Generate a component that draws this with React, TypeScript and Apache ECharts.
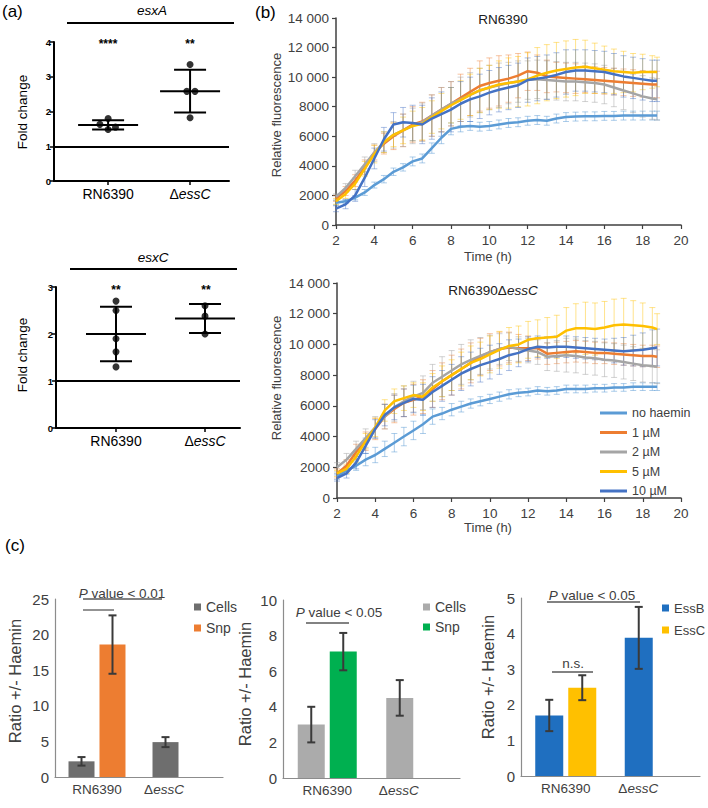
import React, { useEffect, useRef } from 'react';
import * as echarts from 'echarts';

// ---------------- DATA ----------------
// Panel (a)
const A_CATS = ['RN6390', 'ΔessC'];
const ESXA_WT = [1.8, 1.63, 1.48, 1.55];
const ESXA_WT_JIT = [0, -0.1, 0, 0.09];
const ESXA_MU = [3.35, 2.58, 2.58, 1.82];
const ESXA_MU_JIT = [0, -0.04, 0.06, 0];
const ESXA_MEAN = [1.615, 2.585];
const ESXA_SD = [0.135, 0.615];
const ESXC_WT = [2.7, 2.5, 1.9, 1.62, 1.3];
const ESXC_WT_JIT = [0, 0, 0, 0, 0];
const ESXC_MU = [2.6, 2.38, 2.0];
const ESXC_MU_JIT = [0, 0, 0];
const ESXC_MEAN = [2.0, 2.33];
const ESXC_SD = [0.58, 0.31];

// Panel (b)
const TIME = [2, 2.5, 3, 3.5, 4, 4.5, 5, 5.5, 6, 6.5, 7, 7.5, 8, 8.5, 9, 9.5, 10, 10.5, 11, 11.5, 12, 12.5, 13, 13.5, 14, 14.5, 15, 15.5, 16, 16.5, 17, 17.5, 18, 18.5, 18.75];
const SERIES_NAMES = ['no haemin', '1 µM', '2 µM', '5 µM', '10 µM'];

const WT_NO = [1500, 1600, 1850, 2200, 2700, 3100, 3600, 3900, 4300, 4500, 5200, 5900, 6500, 6650, 6700, 6650, 6700, 6800, 6900, 6950, 7050, 7100, 7050, 7200, 7300, 7330, 7350, 7350, 7380, 7380, 7400, 7400, 7400, 7400, 7400];
const WT_1 = [1800, 2300, 3000, 3900, 4900, 5500, 6000, 6400, 6800, 7000, 7400, 7800, 8200, 8600, 9000, 9400, 9600, 9750, 9900, 10100, 10400, 10300, 10050, 10000, 9950, 9900, 9850, 9800, 9750, 9700, 9650, 9600, 9550, 9500, 9500];
const WT_2 = [1900, 2500, 3300, 4100, 4900, 5600, 6100, 6400, 6700, 6950, 7400, 7800, 8200, 8500, 8800, 9100, 9300, 9450, 9600, 9700, 9800, 9850, 9800, 9750, 9700, 9700, 9650, 9600, 9500, 9300, 9100, 8900, 8700, 8550, 8500];
const WT_5 = [1600, 2100, 2800, 3800, 4800, 5600, 6100, 6400, 6700, 6850, 7300, 7700, 8100, 8450, 8800, 9100, 9300, 9500, 9600, 9700, 9850, 10100, 10300, 10450, 10550, 10650, 10700, 10600, 10500, 10400, 10350, 10300, 10350, 10350, 10350];
const WT_10 = [1100, 1400, 2000, 3200, 4500, 5800, 6800, 6950, 6900, 6800, 7200, 7500, 7800, 8200, 8500, 8700, 8950, 9150, 9300, 9450, 9800, 9900, 10000, 10150, 10350, 10450, 10450, 10400, 10350, 10200, 10050, 9950, 9850, 9750, 9750];

const WT_NO_E = [150, 150, 150, 200, 200, 250, 250, 250, 300, 300, 350, 400, 400, 350, 300, 300, 300, 300, 300, 300, 300, 300, 300, 300, 300, 300, 300, 300, 300, 300, 300, 300, 300, 300, 300];
const WT_1_E = [200, 300, 400, 500, 500, 700, 900, 1100, 1200, 1300, 1400, 1500, 1500, 1600, 1600, 1700, 1700, 1700, 1600, 1500, 1300, 1200, 1100, 1000, 1000, 1000, 900, 900, 900, 900, 900, 900, 900, 900, 900];
const WT_2_E = [200, 300, 400, 500, 600, 700, 900, 1100, 1200, 1300, 1400, 1500, 1500, 1500, 1500, 1500, 1500, 1500, 1400, 1400, 1300, 1300, 1300, 1300, 1300, 1300, 1300, 1300, 1300, 1300, 1300, 1300, 1400, 1400, 1400];
const WT_5_E = [200, 300, 400, 500, 600, 700, 800, 900, 1000, 1100, 1100, 1200, 1200, 1300, 1400, 1500, 1500, 1600, 1700, 1700, 1800, 1900, 1900, 1900, 1900, 1900, 1800, 1700, 1600, 1500, 1400, 1300, 1200, 1100, 1000];
const WT_10_E = [200, 300, 400, 600, 700, 800, 800, 1000, 1200, 1300, 1400, 1500, 1500, 1500, 1500, 1500, 1500, 1500, 1500, 1500, 1500, 1500, 1500, 1500, 1500, 1400, 1400, 1400, 1400, 1400, 1400, 1400, 1400, 1400, 1400];

const MU_NO = [1400, 1800, 2100, 2500, 2800, 3200, 3600, 4000, 4400, 4800, 5300, 5500, 5750, 5950, 6150, 6300, 6450, 6600, 6750, 6850, 6900, 7000, 6950, 7000, 7100, 7100, 7100, 7150, 7150, 7200, 7200, 7250, 7250, 7250, 7250];
const MU_1 = [1600, 2100, 3000, 3700, 4500, 5300, 5800, 6200, 6400, 6600, 7100, 7600, 8000, 8400, 8800, 9200, 9500, 9700, 9800, 9750, 9750, 9750, 9400, 9450, 9500, 9550, 9500, 9450, 9450, 9400, 9350, 9300, 9250, 9250, 9200];
const MU_2 = [2000, 2500, 3200, 3900, 4600, 5300, 5900, 6300, 6600, 6850, 7500, 7900, 8300, 8700, 9000, 9250, 9500, 9700, 9850, 9700, 9600, 9500, 9200, 9250, 9300, 9250, 9150, 9100, 9000, 8950, 8850, 8750, 8650, 8600, 8550];
const MU_5 = [1600, 1900, 2700, 3700, 4600, 5700, 6300, 6500, 6700, 6600, 7200, 7600, 8000, 8400, 8800, 9050, 9350, 9650, 9900, 10000, 10300, 10400, 10450, 10500, 10900, 11050, 11050, 11000, 11100, 11250, 11300, 11250, 11200, 11100, 11000];
const MU_10 = [1300, 1600, 2300, 3400, 4500, 5400, 5900, 6200, 6450, 6400, 6900, 7300, 7700, 8100, 8400, 8650, 8850, 9050, 9300, 9450, 9700, 9850, 9800, 9850, 9850, 9800, 9750, 9700, 9650, 9600, 9550, 9600, 9650, 9750, 9800];

const MU_NO_E = [200, 250, 300, 400, 500, 500, 600, 600, 600, 600, 500, 400, 400, 350, 300, 300, 300, 300, 300, 250, 250, 250, 250, 250, 250, 250, 250, 250, 250, 250, 250, 250, 250, 250, 250];
const MU_1_E = [300, 400, 500, 600, 700, 800, 900, 900, 1000, 1100, 1200, 1200, 1300, 1300, 1300, 1200, 1200, 1100, 1000, 900, 800, 700, 700, 700, 700, 700, 700, 700, 700, 700, 700, 700, 700, 700, 700];
const MU_2_E = [300, 400, 500, 600, 700, 800, 900, 1000, 1000, 1100, 1200, 1300, 1300, 1300, 1300, 1200, 1100, 1000, 900, 800, 800, 800, 900, 1000, 1100, 1100, 1100, 1100, 1100, 1100, 1100, 1100, 1100, 1100, 1100];
const MU_5_E = [200, 300, 400, 500, 600, 700, 800, 800, 800, 900, 900, 1000, 1000, 1100, 1100, 1100, 1200, 1200, 1200, 1200, 1200, 1200, 1300, 1400, 1500, 1600, 1700, 1700, 1700, 1700, 1700, 1600, 1500, 1300, 1000];
const MU_10_E = [200, 300, 400, 500, 600, 700, 800, 900, 900, 1000, 1000, 1000, 1000, 1100, 1100, 1100, 1100, 1000, 1000, 900, 800, 700, 700, 700, 700, 700, 700, 700, 700, 800, 900, 1000, 1100, 1200, 1200];

const B_TICKS_X = { min: 2, max: 20, interval: 2 };
const B_TICKS_Y = { min: 0, max: 14000, interval: 2000 };

// Panel (c)
const C_CATS = ['RN6390', 'ΔessC'];
const C1_CELLS = [2.2, 4.9];
const C1_CELLS_E = [0.6, 0.7];
const C1_SNP = [18.6, null];
const C1_SNP_E = [4.1, null];
const C2_CELLS = [3.0, 4.5];
const C2_CELLS_E = [1.0, 1.0];
const C2_SNP = [7.1, null];
const C2_SNP_E = [1.05, null];
const C3_ESSB = [1.7, 3.88];
const C3_ESSB_E = [0.44, 0.87];
const C3_ESSC = [2.48, null];
const C3_ESSC_E = [0.35, null];

// ---------------- STYLE ----------------
const FONT = "'Liberation Sans', Arial, Helvetica, sans-serif";
const B_COLORS = ['#5b9bd5', '#ed7d31', '#a5a5a5', '#ffc000', '#4472c4'];
const B_ERR_COLORS = ['rgba(91,155,213,0.5)', 'rgba(237,125,49,0.45)', 'rgba(165,165,165,0.5)', 'rgba(255,192,0,0.45)', 'rgba(68,114,196,0.45)'];
const DARK = '#404040';

function labelA(v: number) {
  return v === 1 ? A_CATS[0] : '{d|Δ}{i|essC}';
}

function aErrRender(params: any, api: any) {
  const x = api.value(0), m = api.value(1), s = api.value(2);
  const pm = api.coord([x, m]);
  const pt = api.coord([x, m + s]);
  const pb = api.coord([x, m - s]);
  const st = { stroke: '#000', lineWidth: 2 };
  const hm = 30, hc = 16;
  return {
    type: 'group',
    children: [
      { type: 'line', shape: { x1: pm[0] - hm, y1: pm[1], x2: pm[0] + hm, y2: pm[1] }, style: st },
      { type: 'line', shape: { x1: pt[0] - hc, y1: pt[1], x2: pt[0] + hc, y2: pt[1] }, style: st },
      { type: 'line', shape: { x1: pb[0] - hc, y1: pb[1], x2: pb[0] + hc, y2: pb[1] }, style: st },
      { type: 'line', shape: { x1: pt[0], y1: pt[1], x2: pb[0], y2: pb[1] }, style: st },
    ],
  };
}

function bErrRender(color: string) {
  return (params: any, api: any) => {
    const x = api.value(0), v = api.value(1), e = api.value(2);
    const p1 = api.coord([x, v + e]);
    const p2 = api.coord([x, v - e]);
    const st = { stroke: color, lineWidth: 1 };
    const c = 3;
    return {
      type: 'group',
      children: [
        { type: 'line', shape: { x1: p1[0], y1: p1[1], x2: p2[0], y2: p2[1] }, style: st },
        { type: 'line', shape: { x1: p1[0] - c, y1: p1[1], x2: p1[0] + c, y2: p1[1] }, style: st },
        { type: 'line', shape: { x1: p2[0] - c, y1: p2[1], x2: p2[0] + c, y2: p2[1] }, style: st },
      ],
    };
  };
}

function cErrRender(offset: number) {
  return (params: any, api: any) => {
    const i = api.value(0), v = api.value(1), e = api.value(2);
    const p1 = api.coord([i, v + e]);
    const p2 = api.coord([i, v - e]);
    const x = p1[0] + offset;
    const st = { stroke: '#3a3a3a', lineWidth: 2 };
    const c = 4;
    return {
      type: 'group',
      children: [
        { type: 'line', shape: { x1: x, y1: p1[1], x2: x, y2: p2[1] }, style: st },
        { type: 'line', shape: { x1: x - c, y1: p1[1], x2: x + c, y2: p1[1] }, style: st },
        { type: 'line', shape: { x1: x - c, y1: p2[1], x2: x + c, y2: p2[1] }, style: st },
      ],
    };
  };
}

function buildOption() {
  const aRich = {
    d: { fontSize: 14, color: '#000', fontFamily: FONT },
    i: { fontSize: 14, color: '#000', fontStyle: 'italic', fontFamily: FONT },
  };
  const cRich = {
    n: { fontSize: 13.5, color: DARK, fontFamily: FONT },
    d: { fontSize: 13.5, color: DARK, fontFamily: FONT },
    i: { fontSize: 13.5, color: DARK, fontStyle: 'italic', fontFamily: FONT, padding: [0, 34, 0, 0] },
  };
  const cLabel = (v: string) => (v === C_CATS[1] ? '{d|Δ}{i|essC}' : '{n|' + v + '}');

  const aX = (grid: number, min: number, max: number) => ({
    type: 'value', gridIndex: grid, min, max,
    axisLine: { show: true, onZero: false, lineStyle: { color: '#000', width: 2 } },
    axisTick: { show: true, customValues: [1, 2], length: 4, lineStyle: { color: '#000', width: 1.5 } },
    axisLabel: { customValues: [1, 2], formatter: labelA, fontSize: 14, color: '#000', margin: 6, rich: aRich },
    splitLine: { show: false },
  });
  const aY = (grid: number, max: number) => ({
    type: 'value', gridIndex: grid, min: 0, max, interval: 1,
    axisLine: { show: true, lineStyle: { color: '#000', width: 2 } },
    axisTick: { show: true, length: 4, lineStyle: { color: '#000', width: 1.5 } },
    axisLabel: { fontSize: 9.5, fontWeight: 'bold', color: '#000', margin: 3 },
    splitLine: { show: false },
  });
  const bX = (grid: number) => ({
    type: 'value', gridIndex: grid, ...B_TICKS_X,
    axisLine: { show: true, onZero: false, lineStyle: { color: DARK, width: 1.5 } },
    axisTick: { show: true, length: 4, lineStyle: { color: DARK, width: 1.2 } },
    axisLabel: { fontSize: 13.5, color: DARK, margin: 8 },
    splitLine: { show: false },
  });
  const bY = (grid: number) => ({
    type: 'value', gridIndex: grid, ...B_TICKS_Y,
    axisLine: { show: true, lineStyle: { color: DARK, width: 1.5 } },
    axisTick: { show: true, length: 4, lineStyle: { color: DARK, width: 1.2 } },
    axisLabel: {
      fontSize: 13.5, color: DARK, margin: 7,
      formatter: (v: number) => (v >= 10000 ? `${Math.floor(v / 1000)} ${String(v % 1000).padStart(3, '0')}` : `${v}`),
    },
    splitLine: { show: false },
  });
  const cX = (grid: number) => ({
    type: 'category', gridIndex: grid, data: C_CATS,
    axisLine: { show: true, lineStyle: { color: '#8c8c8c', width: 1.2 } },
    axisTick: { show: false },
    axisLabel: { formatter: cLabel, rich: cRich, margin: 5, interval: 0 },
    splitLine: { show: false },
  });
  const cY = (grid: number, max: number, interval: number) => ({
    type: 'value', gridIndex: grid, min: 0, max, interval,
    axisLine: { show: true, lineStyle: { color: '#8c8c8c', width: 1.2 } },
    axisTick: { show: false },
    axisLabel: { fontSize: 15, color: DARK, margin: 6 },
    splitLine: { show: false },
  });

  const series: any[] = [];

  // Panel (a)
  const markOne = {
    silent: true, symbol: 'none', label: { show: false },
    lineStyle: { color: '#000', width: 2, type: 'solid' },
    data: [{ yAxis: 1 }],
  };
  const aGroups = [
    { grid: 0, wt: ESXA_WT, wtJ: ESXA_WT_JIT, mu: ESXA_MU, muJ: ESXA_MU_JIT, mean: ESXA_MEAN, sd: ESXA_SD },
    { grid: 1, wt: ESXC_WT, wtJ: ESXC_WT_JIT, mu: ESXC_MU, muJ: ESXC_MU_JIT, mean: ESXC_MEAN, sd: ESXC_SD },
  ];
  aGroups.forEach((g) => {
    const pts = [
      ...g.wt.map((v, i) => [1 + g.wtJ[i], v]),
      ...g.mu.map((v, i) => [2 + g.muJ[i], v]),
    ];
    series.push({
      type: 'scatter', xAxisIndex: g.grid, yAxisIndex: g.grid, data: pts,
      symbolSize: 7, itemStyle: { color: '#000' }, z: 4, markLine: markOne,
    });
    series.push({
      type: 'custom', xAxisIndex: g.grid, yAxisIndex: g.grid,
      data: g.mean.map((m, i) => [i + 1, m, g.sd[i]]),
      encode: { x: 0, y: 1 }, renderItem: aErrRender, z: 3,
    });
  });

  // Panel (b)
  const bPanels = [
    { grid: 2, vals: [WT_NO, WT_1, WT_2, WT_5, WT_10], errs: [WT_NO_E, WT_1_E, WT_2_E, WT_5_E, WT_10_E] },
    { grid: 3, vals: [MU_NO, MU_1, MU_2, MU_5, MU_10], errs: [MU_NO_E, MU_1_E, MU_2_E, MU_5_E, MU_10_E] },
  ];
  bPanels.forEach((p) => {
    p.vals.forEach((vals, k) => {
      series.push({
        type: 'custom', xAxisIndex: p.grid, yAxisIndex: p.grid,
        data: TIME.map((t, i) => [t, vals[i], p.errs[k][i]]),
        encode: { x: 0, y: 1 }, renderItem: bErrRender(B_ERR_COLORS[k]), z: 1, silent: true,
      });
    });
    p.vals.forEach((vals, k) => {
      series.push({
        type: 'line', name: SERIES_NAMES[k], xAxisIndex: p.grid, yAxisIndex: p.grid,
        data: TIME.map((t, i) => [t, vals[i]]),
        showSymbol: false, symbol: 'none',
        lineStyle: { color: B_COLORS[k], width: 2.5 }, itemStyle: { color: B_COLORS[k] }, z: 3 + k,
      });
    });
  });

  // Panel (c)
  const cPanels = [
    { grid: 4, names: ['Cells', 'Snp'], colors: ['#6e6e6e', '#ed7d31'], a: C1_CELLS, ae: C1_CELLS_E, b: C1_SNP, be: C1_SNP_E, w: 26, gap: 5 },
    { grid: 5, names: ['Cells ', 'Snp '], colors: ['#ababab', '#00b050'], a: C2_CELLS, ae: C2_CELLS_E, b: C2_SNP, be: C2_SNP_E, w: 27, gap: 5 },
    { grid: 6, names: ['EssB', 'EssC'], colors: ['#1f6fc0', '#ffc000'], a: C3_ESSB, ae: C3_ESSB_E, b: C3_ESSC, be: C3_ESSC_E, w: 28, gap: 5 },
  ];
  cPanels.forEach((p) => {
    const gapPct = ((p.gap / p.w) * 100).toFixed(1) + '%';
    const off = (p.w + p.gap) / 2;
    [p.a, p.b].forEach((vals, k) => {
      series.push({
        type: 'bar', name: p.names[k], xAxisIndex: p.grid, yAxisIndex: p.grid,
        data: vals.map((v) => (v == null ? '-' : v)),
        barWidth: p.w, barGap: gapPct, itemStyle: { color: p.colors[k] }, z: 2,
      });
    });
    [[p.a, p.ae, -off], [p.b, p.be, off]].forEach(([vals, errs, o]: any) => {
      const data: any[] = [];
      vals.forEach((v: any, i: number) => {
        if (v != null) data.push([i, v, errs[i]]);
      });
      series.push({
        type: 'custom', xAxisIndex: p.grid, yAxisIndex: p.grid, data,
        encode: { x: 0, y: 1 }, renderItem: cErrRender(o), z: 5, silent: true,
      });
    });
  });

  const txt = (x: number, y: number, text: string, opts: any = {}) => ({
    type: 'text', x, y, rotation: opts.rotation || 0, silent: true,
    style: {
      text, fill: opts.fill || '#000', fontSize: opts.fontSize || 13, fontFamily: FONT,
      fontStyle: opts.fontStyle || 'normal', fontWeight: opts.fontWeight || 'normal',
      align: opts.align || 'center', verticalAlign: 'middle', rich: opts.rich,
    },
  });
  const ln = (x1: number, y1: number, x2: number, y2: number, color = '#000', width = 2) => ({
    type: 'line', silent: true, shape: { x1, y1, x2, y2 }, style: { stroke: color, lineWidth: width },
  });
  const R90 = Math.PI / 2;
  const pRich = { i: { fontStyle: 'italic', fontSize: 13.5, fill: DARK, fontFamily: FONT } };

  const graphic = [
    // (a)
    txt(2, 11, '(a)', { fontSize: 17, align: 'left' }),
    txt(152, 10, 'esxA', { fontStyle: 'italic', fontSize: 13.5 }),
    ln(67, 23, 234, 23),
    txt(108, 44, '****', { fontSize: 12, fontWeight: 'bold' }),
    txt(190, 44, '**', { fontSize: 12, fontWeight: 'bold' }),
    txt(22, 112, 'Fold change', { rotation: R90, fontSize: 13.5 }),
    txt(153, 257, 'esxC', { fontStyle: 'italic', fontSize: 13.5 }),
    ln(70, 269, 237, 269),
    txt(116, 290, '**', { fontSize: 12, fontWeight: 'bold' }),
    txt(206, 290, '**', { fontSize: 12, fontWeight: 'bold' }),
    txt(22, 355, 'Fold change', { rotation: R90, fontSize: 13.5 }),
    // (b)
    txt(255, 12, '(b)', { fontSize: 17, align: 'left' }),
    txt(503, 19, 'RN6390', { fontSize: 13.5, fill: '#202020' }),
    txt(276, 115, 'Relative fluorescence', { rotation: R90, fontSize: 13, fill: DARK }),
    txt(488, 256, 'Time (h)', { fontSize: 13, fill: DARK }),
    txt(493, 290, '{n|RN6390Δ}{i|essC}', {
      fontSize: 13.5, fill: '#202020',
      rich: {
        n: { fontSize: 13.5, fill: '#202020', fontFamily: FONT },
        i: { fontSize: 13.5, fill: '#202020', fontStyle: 'italic', fontFamily: FONT },
      },
    }),
    txt(276, 378, 'Relative fluorescence', { rotation: R90, fontSize: 13, fill: DARK }),
    txt(488, 527, 'Time (h)', { fontSize: 13, fill: DARK }),
    // (c)
    txt(5, 545, '(c)', { fontSize: 17, align: 'left' }),
    txt(15, 681, 'Ratio +/- Haemin', { rotation: R90, fontSize: 16.5, fill: DARK }),
    txt(245, 684, 'Ratio +/- Haemin', { rotation: R90, fontSize: 16.5, fill: DARK }),
    txt(488, 677, 'Ratio +/- Haemin', { rotation: R90, fontSize: 16.5, fill: DARK }),
    txt(122, 593, '{i|P} value < 0.01', { fontSize: 13.5, fill: DARK, rich: pRich }),
    ln(83, 599, 162, 599, '#595959', 1.3),
    ln(83, 610, 114, 610, '#595959', 1.3),
    txt(339, 612, '{i|P} value < 0.05', { fontSize: 13.5, fill: DARK, rich: pRich }),
    ln(306, 623, 349, 623, '#595959', 1.3),
    txt(592, 595, '{i|P} value < 0.05', { fontSize: 13.5, fill: DARK, rich: pRich }),
    ln(547, 602, 640, 602, '#595959', 1.3),
    txt(573, 663, 'n.s.', { fontSize: 13.5, fill: DARK }),
    ln(552, 672, 593, 672, '#595959', 1.3),
  ];

  const cLegend = (data: string[], left: number, top: number, gap: number, fs = 14) => ({
    data, left, top, orient: 'vertical', icon: 'rect', itemWidth: 7, itemHeight: 7, itemGap: gap,
    selectedMode: false, padding: 0,
    formatter: (n: string) => n.trim(),
    textStyle: { fontSize: fs, color: DARK, fontFamily: FONT, lineHeight: 16 },
  });

  return {
    animation: false,
    backgroundColor: '#fff',
    textStyle: { fontFamily: FONT },
    grid: [
      { left: 54, top: 42, width: 175, height: 139 },
      { left: 56, top: 287, width: 184, height: 141 },
      { left: 336, top: 18, width: 345, height: 207 },
      { left: 337, top: 283, width: 344, height: 215 },
      { left: 55, top: 599, width: 168, height: 178 },
      { left: 283, top: 600, width: 177, height: 178 },
      { left: 521, top: 598, width: 179, height: 178 },
    ],
    xAxis: [aX(0, 0.34, 2.475), aX(1, 0.326, 2.393), bX(2), bX(3), cX(4), cX(5), cX(6)],
    yAxis: [aY(0, 4), aY(1, 3), bY(2), bY(3), cY(4, 25, 5), cY(5, 10, 2), cY(6, 5, 1)],
    legend: [
      {
        data: SERIES_NAMES, left: 600, top: 406, orient: 'vertical', icon: 'rect',
        itemWidth: 27, itemHeight: 3, itemGap: 5.5, selectedMode: false, padding: 0,
        textStyle: { fontSize: 12.5, color: DARK, fontFamily: FONT, lineHeight: 14 },
      },
      cLegend(['Cells', 'Snp'], 194, 599, 5),
      cLegend(['Cells ', 'Snp '], 423, 599, 4),
      cLegend(['EssB', 'EssC'], 662, 600, 6, 13),
    ],
    series,
    graphic,
  };
}

export default function App() {
  const ref = useRef<HTMLDivElement>(null);
  useEffect(() => {
    const chart = echarts.init(ref.current!, null, { renderer: 'svg' });
    chart.setOption(buildOption() as any);
    return () => chart.dispose();
  }, []);
  return (
    <div
      ref={ref}
      style={{ position: 'fixed', left: 0, top: 0, width: 708, height: 808, background: '#fff' }}
    />
  );
}
